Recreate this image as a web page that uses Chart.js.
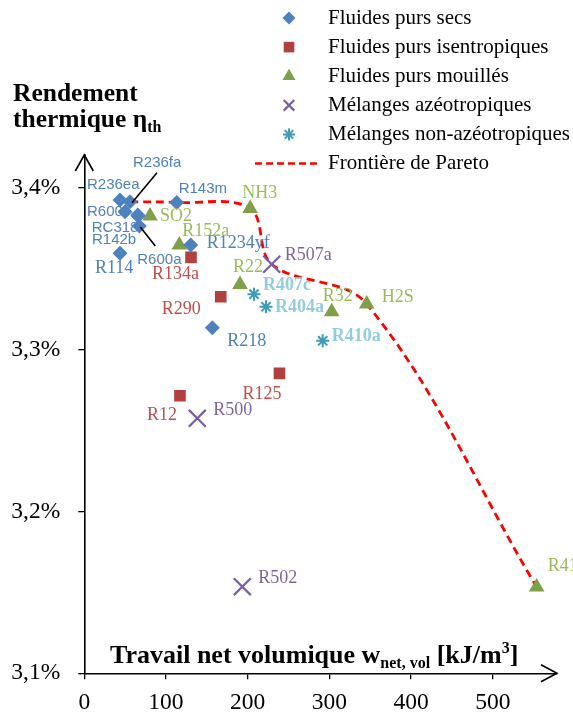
<!DOCTYPE html>
<html>
<head>
<meta charset="utf-8">
<script src="https://cdn.jsdelivr.net/npm/chart.js@4.4.1/dist/chart.umd.min.js"></script>
<style>
html, body { margin: 0; padding: 0; background: #fff; }
#wrap { width: 573px; height: 712px; }
</style>
</head>
<body>
<div id="wrap"><canvas id="chart" width="573" height="712"></canvas></div>
<script>
// Axes
const X_TICKS = [0, 100, 200, 300, 400, 500];
const Y_TICKS = [3.1, 3.2, 3.3, 3.4];

// Fluides purs secs
const DRY_NAMES = ['R236ea', 'R236fa', 'R600', 'RC318', 'R142b', 'R600a', 'R143m', 'R1234yf', 'R114', 'R218'];
const DRY_X = [43.7, 55.9, 49.8, 65.4, 65.7, 67.3, 113.1, 130.2, 43.7, 156.7];
const DRY_Y = [3.3922, 3.3911, 3.3849, 3.3829, 3.3823, 3.3761, 3.3907, 3.3644, 3.3593, 3.3133];

// Fluides purs isentropiques
const ISEN_NAMES = ['R134a', 'R290', 'R125', 'R12'];
const ISEN_X = [130.6, 167.0, 238.9, 117.1];
const ISEN_Y = [3.3568, 3.3325, 3.2852, 3.2714];

// Fluides purs mouillés
const WET_NAMES = ['SO2', 'R152a', 'NH3', 'R22', 'R32', 'H2S', 'R41'];
const WET_X = [80.4, 116.3, 203.0, 190.6, 302.8, 345.7, 553.7];
const WET_Y = [3.3823, 3.3644, 3.3870, 3.3401, 3.3232, 3.3280, 3.1533];

// Mélanges azéotropiques
const AZEO_NAMES = ['R507a', 'R500', 'R502'];
const AZEO_X = [229.4, 138.3, 193.4];
const AZEO_Y = [3.3525, 3.2574, 3.1535];

// Mélanges non-azéotropiques
const ZEO_NAMES = ['R407c', 'R404a', 'R410a'];
const ZEO_X = [207.7, 222.4, 291.8];
const ZEO_Y = [3.3341, 3.3263, 3.3053];

// Frontière de Pareto
const PARETO_X = [55.9, 113.1, 203.0, 229.4, 345.7, 553.7];
const PARETO_Y = [3.3911, 3.3907, 3.3870, 3.3525, 3.3280, 3.1533];

const SERIES_LABELS = ['Fluides purs secs', 'Fluides purs isentropiques', 'Fluides purs mouillés',
  'Mélanges azéotropiques', 'Mélanges non-azéotropiques', 'Frontière de Pareto'];

// label placement (offset from marker, px) - layout only
const LABEL_POS = {
  R236ea: [-33, -15, 's'], R236fa: [3, -39, 's'], R600: [-38, 0, 's'], RC318: [-46, 13, 's'],
  R142b: [-46, 24, 's'], R600a: [-2, 34, 's'], R143m: [2, -14, 's'], R1234yf: [16, -2],
  R114: [-25, 15], R218: [15, 13],
  R134a: [-39, 17], R290: [-59, 13], R125: [-37, 21], R12: [-33, 20],
  SO2: [10, 0], R152a: [3, -14], NH3: [-8, -15], R22: [-7, -17], R32: [-9, -16], H2S: [15, -7], R41: [11, -21],
  R507a: [13, -9], R500: [16, -8], R502: [16, -8],
  R407c: [9, -9, 'b'], R404a: [9, 1, 'b'], R410a: [9, -4, 'b']
};
const LEADERS = { R236fa: [27, -29, 2, 1], R600a: [1, 1, 16, 20] };

function pts(xs, ys) { return xs.map((x, i) => ({ x: x, y: ys[i] })); }

const SERIF = '"Liberation Serif", "Times New Roman", serif';
const SANS = '"Liberation Sans", Arial, sans-serif';

const datasets = [
  { label: SERIES_LABELS[0], names: DRY_NAMES, data: pts(DRY_X, DRY_Y), pointStyle: 'rectRot', pointRadius: 7.5,
    backgroundColor: '#4F81BD', borderColor: '#4F81BD', borderWidth: 0, textColor: '#4F81BD', legendR: 6.5 },
  { label: SERIES_LABELS[1], names: ISEN_NAMES, data: pts(ISEN_X, ISEN_Y), pointStyle: 'rect', pointRadius: 8.2,
    backgroundColor: '#B0413E', borderColor: '#B0413E', borderWidth: 0, textColor: '#C0504D', legendR: 7.5 },
  { label: SERIES_LABELS[2], names: WET_NAMES, data: pts(WET_X, WET_Y), pointStyle: 'triangle', pointRadius: 9,
    backgroundColor: '#7F9F48', borderColor: '#7F9F48', borderWidth: 0, textColor: '#9BBB59', legendR: 7.5 },
  { label: SERIES_LABELS[3], names: AZEO_NAMES, data: pts(AZEO_X, AZEO_Y), pointStyle: 'crossRot', pointRadius: 12,
    backgroundColor: '#7A5FA0', borderColor: '#7A5FA0', borderWidth: 2.2, textColor: '#8064A2', legendR: 7.5 },
  { label: SERIES_LABELS[4], names: ZEO_NAMES, data: pts(ZEO_X, ZEO_Y), pointStyle: 'star', pointRadius: 6.5,
    backgroundColor: '#3D9BB5', borderColor: '#3D9BB5', borderWidth: 2, textColor: '#93CDDD', legendR: 6 },
  { label: SERIES_LABELS[5], data: pts(PARETO_X, PARETO_Y), type: 'line', showLine: true, pointRadius: 0,
    borderColor: '#FF0000', borderWidth: 2.8, borderDash: [8, 5], tension: 0.35, fill: false }
];

const labelPlugin = {
  id: 'pointLabels',
  afterDatasetsDraw(chart) {
    const ctx = chart.ctx;
    ctx.save();
    chart.data.datasets.forEach((ds, di) => {
      if (!ds.names) return;
      const meta = chart.getDatasetMeta(di);
      ds.names.forEach((name, i) => {
        const p = meta.data[i];
        const pos = LABEL_POS[name] || [10, 0];
        if (LEADERS[name]) {
          const l = LEADERS[name];
          ctx.strokeStyle = '#000';
          ctx.lineWidth = 1.6;
          ctx.beginPath();
          ctx.moveTo(p.x + l[0], p.y + l[1]);
          ctx.lineTo(p.x + l[2], p.y + l[3]);
          ctx.stroke();
        }
        if (pos[2] === 's') ctx.font = '15px ' + SANS;
        else if (pos[2] === 'b') ctx.font = 'bold 18px ' + SERIF;
        else ctx.font = '18px ' + SERIF;
        ctx.fillStyle = ds.textColor;
        ctx.textAlign = 'left';
        ctx.textBaseline = 'middle';
        ctx.fillText(name, p.x + pos[0], p.y + pos[1]);
      });
    });
    ctx.restore();
  }
};

function richText(ctx, x, y, parts) {
  parts.forEach(pt => {
    ctx.font = pt[1];
    ctx.fillText(pt[0], x, y + (pt[2] || 0));
    x += ctx.measureText(pt[0]).width;
  });
}

const decorPlugin = {
  id: 'decor',
  afterDraw(chart) {
    const ctx = chart.ctx;
    const a = chart.chartArea;
    ctx.save();
    // arrow heads
    ctx.strokeStyle = '#000';
    ctx.lineWidth = 1.6;
    ctx.beginPath();
    ctx.moveTo(a.left - 9, a.top + 16); ctx.lineTo(a.left, a.top); ctx.lineTo(a.left + 9, a.top + 16);
    ctx.moveTo(a.right - 16, a.bottom - 8.5); ctx.lineTo(a.right, a.bottom); ctx.lineTo(a.right - 16, a.bottom + 8.5);
    ctx.stroke();

    // axis titles
    ctx.fillStyle = '#000';
    ctx.textAlign = 'left';
    ctx.textBaseline = 'alphabetic';
    const B26 = 'bold 26px ' + SERIF, B16 = 'bold 16px ' + SERIF;
    richText(ctx, 110, 663, [['Travail net volumique w', B26], ['net, vol', B16, 5], [' [kJ/m', B26], ['3', B16, -10], [']', B26]]);
    const B25 = 'bold 25.5px ' + SERIF;
    richText(ctx, 13, 101, [['Rendement', B25]]);
    richText(ctx, 13, 127, [['thermique η', B25], ['th', 'bold 16px ' + SERIF, 5]]);

    // legend
    const mx = 289, tx = 328;
    chart.data.datasets.forEach((ds, i) => {
      const y = 18 + i * 29.1;
      if (ds.type === 'line') {
        ctx.strokeStyle = ds.borderColor;
        ctx.lineWidth = 2.6;
        ctx.setLineDash([7, 4]);
        ctx.beginPath(); ctx.moveTo(255, y); ctx.lineTo(320, y); ctx.stroke();
        ctx.setLineDash([]);
      } else {
        ctx.fillStyle = ds.backgroundColor;
        ctx.strokeStyle = ds.borderColor;
        ctx.lineWidth = ds.borderWidth || 1;
        Chart.helpers.drawPoint(ctx, { pointStyle: ds.pointStyle, radius: ds.legendR, borderWidth: ds.borderWidth, rotation: 0 }, mx, y);
      }
      ctx.fillStyle = '#000';
      ctx.font = '21px ' + SERIF;
      ctx.textBaseline = 'middle';
      ctx.fillText(ds.label, tx, y);
    });
    ctx.restore();
  }
};

new Chart(document.getElementById('chart'), {
  type: 'scatter',
  data: { datasets: datasets },
  options: {
    responsive: false,
    animation: false,
    layout: { padding: { left: 0, right: 16, top: 155, bottom: 0 } },
    plugins: { legend: { display: false }, tooltip: { enabled: false } },
    elements: { point: { hoverRadius: 0 } },
    scales: {
      x: {
        type: 'linear', min: 0, max: 578.6,
        afterBuildTicks: s => { s.ticks = X_TICKS.map(v => ({ value: v })); },
        afterFit: s => { s.height = 38.7; },
        grid: { display: true, drawOnChartArea: false, drawTicks: true, tickLength: 6, color: '#000', lineWidth: 1.3 },
        border: { display: true, color: '#000', width: 1.6 },
        ticks: { padding: 9, color: '#000', font: { family: SERIF, size: 23.5 }, maxRotation: 0, callback: v => String(v) }
      },
      y: {
        type: 'linear', min: 3.1, max: 3.42,
        afterBuildTicks: s => { s.ticks = Y_TICKS.map(v => ({ value: v })); },
        afterFit: s => { s.width = 84.3; },
        grid: { display: true, drawOnChartArea: false, drawTicks: true, tickLength: 6, color: '#000', lineWidth: 1.3 },
        border: { display: true, color: '#000', width: 1.6 },
        ticks: { padding: 18, color: '#000', font: { family: SERIF, size: 23.5 },
          callback: v => v.toFixed(1).replace('.', ',') + '%' }
      }
    }
  },
  plugins: [labelPlugin, decorPlugin]
});
</script>
</body>
</html>
